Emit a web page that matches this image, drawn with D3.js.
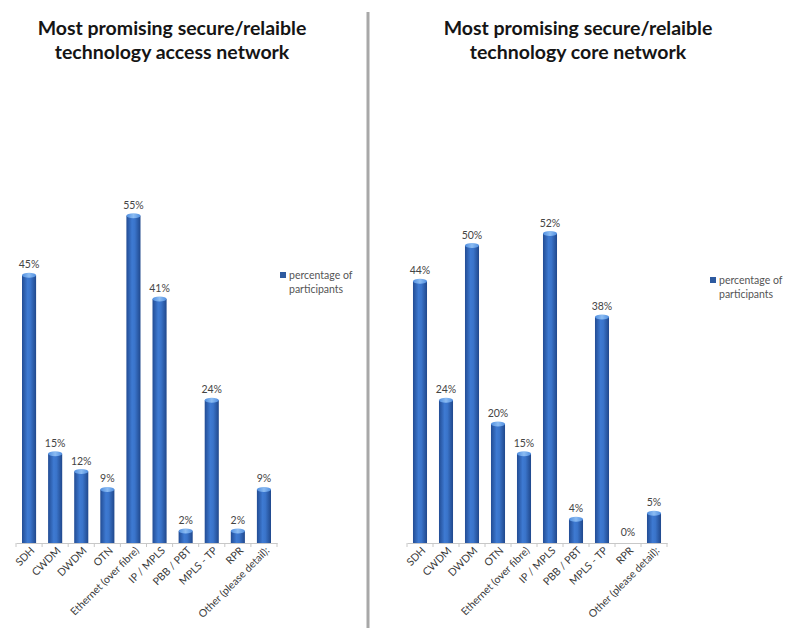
<!DOCTYPE html>
<html>
<head>
<meta charset="utf-8">
<script src="https://cdn.jsdelivr.net/npm/d3@7"></script>
<style>
  html, body { margin: 0; padding: 0; background: #fff; }
  svg { display: block; }
  .title { font-family: Lato, "Open Sans", sans-serif; font-weight: 700; font-size: 19.5px; fill: #151515; }
  .val { font-family: Lato, "Open Sans", sans-serif; font-size: 10.5px; fill: #444; }
  .tick-label { font-family: Lato, "Open Sans", sans-serif; font-size: 10.5px; fill: #3a3a3a; }
  .legend { font-family: Lato, "Open Sans", sans-serif; font-size: 10.5px; fill: #555; }
</style>
</head>
<body>
<svg id="chart" width="785" height="628"></svg>
<script>
// Technologies surveyed
const categories = ["SDH", "CWDM", "DWDM", "OTN", "Ethernet (over fibre)", "IP / MPLS",
                    "PBB / PBT", "MPLS - TP", "RPR", "Other (please detail):"];
// Percentage of participants choosing each technology
const accessValues = [45, 15, 12, 9, 55, 41, 2, 24, 2, 9];
const coreValues   = [44, 24, 50, 20, 15, 52, 4, 38, 0, 5];
const seriesName = ["percentage of", "participants"];
const titlesAccess = ["Most promising secure/relaible", "technology access network"];
const titlesCore   = ["Most promising secure/relaible", "technology core network"];

const svg = d3.select("#chart");
const defs = svg.append("defs");

// Cylinder shading for bars
const grad = defs.append("linearGradient").attr("id", "barGrad")
  .attr("x1", "0%").attr("x2", "100%").attr("y1", "0%").attr("y2", "0%");
grad.append("stop").attr("offset", "0%").attr("stop-color", "#224c94");
grad.append("stop").attr("offset", "40%").attr("stop-color", "#3e7ad2");
grad.append("stop").attr("offset", "60%").attr("stop-color", "#3a74ca");
grad.append("stop").attr("offset", "100%").attr("stop-color", "#20488c");

const capGrad = defs.append("linearGradient").attr("id", "capGrad")
  .attr("x1", "0%").attr("x2", "100%");
capGrad.append("stop").attr("offset", "0%").attr("stop-color", "#4f8ee0");
capGrad.append("stop").attr("offset", "50%").attr("stop-color", "#8cbcf2");
capGrad.append("stop").attr("offset", "100%").attr("stop-color", "#4f8ee0");

function drawChart(opts) {
  const { x0, x1, values, titles, titleX, legendX, legendY } = opts;
  const baseY = 543;
  const g = svg.append("g");

  const x = d3.scaleBand().domain(categories).range([x0, x1]).paddingInner(0.46).paddingOuter(0.23);
  const y = d3.scaleLinear().domain([0, 60]).range([baseY, baseY - 357]);

  // Title
  g.append("text").attr("class", "title").attr("text-anchor", "middle")
    .selectAll("tspan").data(titles).join("tspan")
    .attr("x", titleX).attr("y", (d, i) => 35 + i * 24).text(d => d);

  // Category axis
  const axis = d3.axisBottom(x).tickSize(0).tickFormat(d => d);
  const ax = g.append("g").attr("transform", `translate(0,${baseY})`).call(axis);
  ax.select(".domain").attr("stroke", "#c8c8c8").attr("stroke-width", 1.2);
  ax.selectAll(".tick text").attr("class", "tick-label")
    .attr("fill", null).attr("font-family", null).attr("font-size", null)
    .attr("text-anchor", "end")
    .attr("transform", "translate(4,6) rotate(-45)")
    .attr("dy", "0.3em").attr("y", 0).attr("x", 0);

  // Tick marks between categories
  const step = x.step();
  const bounds = d3.range(categories.length + 1).map(i => x0 + i * step);
  g.append("g").selectAll("line").data(bounds).join("line")
    .attr("x1", d => d).attr("x2", d => d)
    .attr("y1", baseY).attr("y2", baseY + 4)
    .attr("stroke", "#c8c8c8");

  const data = categories.map((c, i) => ({ c, v: values[i] }));
  const bw = x.bandwidth();

  // Bars
  const bars = g.append("g").selectAll("g").data(data).join("g");
  bars.filter(d => d.v > 0).append("rect")
    .attr("x", d => x(d.c)).attr("width", bw)
    .attr("y", d => y(d.v)).attr("height", d => baseY - y(d.v))
    .attr("fill", "url(#barGrad)");
  bars.filter(d => d.v > 0).append("ellipse")
    .attr("cx", d => x(d.c) + bw / 2).attr("cy", d => y(d.v))
    .attr("rx", bw / 2).attr("ry", 2.5)
    .attr("fill", "url(#capGrad)");

  // Value labels
  g.append("g").selectAll("text").data(data).join("text")
    .attr("class", "val").attr("text-anchor", "middle")
    .attr("x", d => x(d.c) + bw / 2).attr("y", d => y(d.v) - 7)
    .text(d => d.v + "%");

  // Legend
  const lg = g.append("g");
  lg.append("rect").attr("x", legendX).attr("y", legendY - 7)
    .attr("width", 6).attr("height", 6).attr("fill", "#2d5aa0");
  lg.append("text").attr("class", "legend")
    .selectAll("tspan").data(seriesName).join("tspan")
    .attr("x", legendX + 9).attr("y", (d, i) => legendY + i * 14)
    .text(d => d);
}

drawChart({ x0: 16, x1: 277, values: accessValues, titles: titlesAccess,
            titleX: 172, legendX: 280, legendY: 279 });
drawChart({ x0: 407, x1: 667, values: coreValues, titles: titlesCore,
            titleX: 578, legendX: 710, legendY: 284 });

// Divider between the two panels
svg.append("line").attr("x1", 368).attr("x2", 368).attr("y1", 12).attr("y2", 628)
  .attr("stroke", "#a8a8a8").attr("stroke-width", 3);
</script>
</body>
</html>
